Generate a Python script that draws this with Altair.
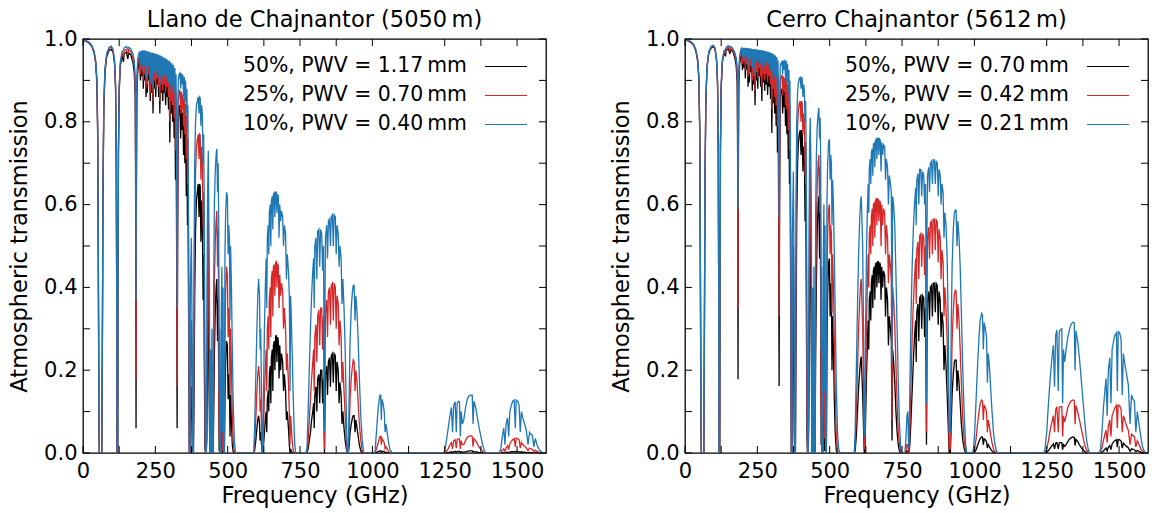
import altair as alt
import pandas as pd

# ---------------- data ----------------
FREQ_L = [
    0, 10, 20, 30, 38, 44, 48, 51, 53, 55, 56.5,
    65, 67, 69, 72, 76, 82, 90, 98, 104,
    109, 112.5, 115, 116.5, 117.5, 120, 121, 122.5, 125, 129,
    135, 140, 142, 150, 155, 158, 165, 172, 177,
    180.5, 182.3, 183.3, 184.3, 186, 189, 193,
    196, 198.5, 201, 203.5, 206, 208.5, 211, 213, 215.5, 218, 220.5, 222.5, 225, 227.5,
    230, 232.5, 235, 237.5, 240, 242, 244.5, 247, 249.5, 251.5, 254, 256.5, 259, 261.5,
    264, 265.5, 268, 270.5, 273, 275.5, 278, 280.5, 283, 285.5, 288, 290.5, 293, 295.5,
    298, 300, 302.5, 305, 307.5, 310, 312.5, 315, 317.5, 319.5, 321.5,
    323.5, 325.2, 327, 329, 332,
    335, 337.5, 340, 342.5, 345, 347.5, 350, 352, 354.5, 357, 359, 361, 362.5, 364.5, 366,
    367.5, 369.5, 371, 374.5, 377.5, 379, 381.5,
    383.5, 386, 389, 392, 395, 398, 401, 403, 405, 407.5, 410, 412.5,
    415, 417, 419.5, 421.5, 423.5, 426, 428, 430.5, 433, 435, 437, 438.5, 440.5, 442, 443.5, 445.5, 447, 449.5,
    451.5, 454, 457, 460, 462.5, 465, 467, 469, 470.5, 472, 473.5, 476, 478, 480, 482, 484, 486, 488.5,
    490.5, 493, 496, 499, 501.5, 503.5, 506, 508, 510, 513, 516, 519, 523, 527,
    590, 593, 597, 601, 604, 607, 610, 612, 614, 617, 619.5, 622,
    624, 627, 630, 633, 635, 637, 640, 642, 644, 647, 649, 651, 654,
    656, 658, 661, 663, 665.5, 668, 670, 672.5, 675, 677.5, 680,
    683, 686, 690, 693, 696, 700, 703, 706, 710, 713, 715.5, 717.5, 720, 723, 726, 729, 732, 735,
    770, 774, 778, 782, 786, 790, 794, 797, 799, 801, 805, 808, 811,
    815, 818, 821, 825, 828, 831, 833, 834.5, 836, 838, 842, 845, 848,
    852, 855, 858, 862, 865, 868, 872, 875, 878, 882,
    885, 888, 892, 895, 898, 902, 906, 910, 913, 917,
    920, 923, 927, 931, 934, 937, 940, 943, 947, 951, 955, 960, 965, 970,
    1008, 1010, 1014, 1018, 1022, 1026, 1029, 1031, 1033, 1037, 1041, 1044, 1047, 1051, 1055, 1060, 1066, 1070,
    1245, 1250, 1256, 1262, 1268, 1273, 1277, 1281, 1286, 1290, 1293, 1297, 1301, 1304,
    1307, 1311, 1316, 1322, 1328, 1334, 1340, 1345, 1348, 1351, 1357, 1363, 1369, 1375, 1381, 1387, 1393,
    1438, 1444, 1449, 1454, 1458, 1462, 1467, 1471, 1475, 1480, 1485, 1490, 1494, 1497,
    1502, 1507, 1511, 1515, 1520, 1526, 1532, 1538, 1543, 1548, 1553, 1558, 1563, 1569, 1575, 1582, 1590, 1600,
]

# 50 %, PWV = 1.17 mm (black)
T50_L = [
    .996, .995, .991, .983, .968, .940, .890, .750, .450, .080, 0,
    0, .25, .62, .83, .92, .958, .972, .975, .968,
    .94, .88, .70, .35, 0, 0, .35, .72, .87, .935,
    .96, .945, .965, .968, .952, .966, .962, .945, .92,
    .86, .55, .06, .55, .86, .92, .945,
    .948, .90, .95, .91, .95, .88, .948, .90, .945, .86, .942, .87, .94, .90,
    .937, .85, .934, .87, .93, .82, .927, .88, .924, .86, .921, .89, .918, .86,
    .915, .82, .912, .87, .909, .85, .905, .87, .90, .84, .896, .86, .892, .83,
    .887, .75, .882, .82, .876, .80, .868, .76, .855, .66, .83,
    .5, .06, .5, .8, .84,
    .835, .76, .83, .78, .822, .72, .81, .70, .79, .62, .75, .55, .68, .40, .15,
    0, 0, .077, .16, .02, 0, 0,
    .12, .38, .54, .61, .63, .65, .57, .65, .645, .51, .61, .57,
    .37, .48, .19, .011, 0, 0, .034, .26, .41, .19, .077, 0, 0, .02, 0, .034, 0, 0,
    .077, .24, .34, .40, .42, .27, .37, .19, .005, .034, 0, 0, .05, .11, 0, .077, 0, 0,
    .13, .22, .27, .26, .13, .19, .16, .04, .14, .077, .02, .003, 0, 0,
    0, .005, .03, .06, .08, .09, .07, .03, .05, .02, 0, 0,
    .02, .05, .08, .10, .05, .13, .15, .10, .19, .21, .12, .23, .25,
    .15, .26, .27, .20, .28, .285, .22, .28, .27, .18, .26,
    .20, .24, .22, .15, .19, .15, .08, .10, .06, .02, 0, .01, .005, 0, 0, 0, 0, 0,
    0, 0, .01, .03, .05, .08, .10, .12, .06, .14, .16, .10, .18,
    .19, .12, .20, .20, .12, .18, .08, 0, .10, .19, .21, .14, .22,
    .23, .16, .235, .24, .17, .24, .235, .15, .22, .20,
    .12, .17, .14, .07, .10, .06, .03, .01, 0, 0,
    .02, .05, .07, .085, .09, .09, .05, .08, .06, .04, .02, .005, 0, 0,
    0, 0, .001, .003, .004, .005, .005, .002, .004, .004, .003, .001, .002, .001, 0, 0, 0, 0,
    0, 0, 0, .001, .002, .003, .001, .003, .004, .001, .004, .004, .004, .001,
    .003, .002, .002, .003, .004, .005, .005, .005, .002, .004, .003, .002, .001, .001, 0, 0, 0,
    0, 0, 0, .001, 0, .001, .002, .001, .002, .003, .003, .004, .002, .004,
    .004, .003, .001, .003, .002, .002, .001, 0, .001, .001, .001, 0, .001, 0, 0, 0, 0, 0,
]

# 25 %, PWV = 0.70 mm (red)
T25_L = [
    .996, .995, .992, .984, .970, .945, .900, .770, .470, .090, 0,
    0, .27, .64, .84, .925, .962, .977, .98, .972,
    .945, .89, .72, .36, 0, 0, .36, .73, .88, .94,
    .965, .958, .972, .975, .963, .974, .97, .955, .935,
    .88, .65, .18, .65, .88, .935, .955,
    .958, .915, .96, .925, .96, .90, .958, .915, .955, .88, .954, .89, .952, .915,
    .95, .87, .948, .89, .945, .85, .943, .90, .94, .88, .938, .905, .935, .885,
    .932, .85, .93, .89, .927, .875, .924, .89, .92, .87, .917, .885, .914, .86,
    .91, .80, .906, .85, .902, .84, .896, .81, .887, .73, .87,
    .6, .16, .6, .85, .875,
    .875, .82, .872, .83, .866, .79, .857, .77, .843, .71, .815, .65, .76, .50, .20,
    0, 0, .2, .32, .09, 0, 0,
    .26, .54, .68, .74, .755, .77, .71, .77, .768, .66, .74, .71,
    .54, .63, .35, .06, 0, 0, .12, .43, .58, .35, .20, 0, 0, .09, 0, .12, 0, 0,
    .20, .41, .51, .56, .585, .45, .54, .35, .036, .12, 0, 0, .16, .25, .005, .20, 0, 0,
    .28, .39, .45, .43, .28, .35, .32, .14, .30, .20, .09, .025, .002, 0,
    0, .02, .08, .15, .19, .21, .18, .10, .13, .06, 0, 0,
    .06, .14, .20, .25, .15, .30, .33, .25, .37, .40, .28, .42, .44,
    .33, .45, .455, .38, .46, .462, .40, .458, .45, .35, .43,
    .38, .41, .39, .30, .35, .30, .20, .24, .17, .10, .02, .09, .06, .03, .01, 0, 0, 0,
    0, 0, .03, .08, .13, .18, .22, .25, .15, .28, .31, .22, .33,
    .345, .26, .35, .35, .25, .33, .15, .01, .20, .34, .37, .28, .39,
    .40, .31, .405, .41, .32, .41, .40, .30, .38, .36,
    .26, .32, .28, .17, .22, .15, .09, .03, 0, 0,
    .06, .13, .18, .21, .225, .22, .15, .20, .17, .12, .07, .03, .005, 0,
    0, .002, .01, .02, .03, .04, .04, .02, .035, .03, .025, .01, .015, .01, .005, .002, 0, 0,
    0, .001, .005, .01, .02, .025, .01, .03, .032, .012, .033, .034, .034, .01,
    .03, .02, .02, .03, .038, .04, .042, .04, .015, .035, .03, .022, .014, .008, .004, .001, 0,
    0, .002, .006, .01, .004, .012, .018, .008, .022, .028, .032, .035, .015, .036,
    .035, .032, .012, .026, .02, .016, .012, .005, .012, .01, .009, .003, .007, .004, .002, .001, 0, 0,
]

# 10 %, PWV = 0.40 mm (blue)
T10_L = [
    .997, .996, .993, .985, .972, .948, .905, .780, .480, .100, 0,
    0, .28, .65, .85, .93, .965, .98, .983, .975,
    .95, .895, .73, .37, 0, 0, .37, .74, .885, .945,
    .97, .972, .978, .982, .976, .98, .976, .965, .95,
    .91, .78, .37, .78, .91, .95, .965,
    .97, .935, .972, .94, .973, .92, .973, .935, .972, .905, .971, .91, .97, .935,
    .969, .895, .968, .91, .967, .88, .966, .92, .965, .905, .964, .925, .963, .91,
    .961, .885, .96, .915, .958, .905, .956, .915, .954, .90, .952, .91, .95, .895,
    .947, .87, .944, .89, .941, .885, .937, .87, .93, .84, .915,
    .75, .35, .75, .9, .915,
    .918, .88, .917, .89, .914, .86, .908, .85, .90, .82, .88, .78, .84, .62, .30,
    0, 0, .4, .52, .25, 0, 0,
    .45, .70, .80, .84, .85, .86, .82, .86, .858, .79, .84, .82,
    .70, .77, .55, .20, 0, 0, .30, .62, .73, .55, .40, 0, 0, .25, 0, .30, 0, 0,
    .40, .60, .68, .72, .735, .63, .70, .55, .15, .30, 0, 0, .35, .45, .05, .40, 0, 0,
    .48, .58, .63, .62, .48, .55, .52, .32, .50, .40, .25, .12, .03, 0,
    0, .06, .18, .30, .38, .42, .38, .25, .30, .15, 0, 0,
    .15, .30, .40, .47, .35, .52, .55, .48, .58, .60, .50, .61, .62,
    .54, .625, .628, .57, .63, .63, .58, .625, .62, .52, .60,
    .56, .585, .57, .50, .55, .53, .42, .48, .44, .38, .15, .38, .32, .24, .15, .07, .02, 0,
    0, .01, .10, .20, .30, .38, .44, .47, .35, .50, .52, .42, .535,
    .54, .45, .54, .53, .44, .50, .28, .05, .35, .52, .55, .47, .56,
    .565, .50, .57, .575, .50, .575, .57, .48, .55, .53,
    .45, .50, .47, .36, .42, .35, .25, .10, 0, 0,
    .15, .27, .35, .39, .405, .405, .32, .38, .34, .27, .18, .09, .03, 0,
    0, .01, .05, .09, .12, .14, .14, .08, .13, .12, .10, .05, .07, .05, .03, .01, .003, 0,
    0, .005, .03, .06, .09, .11, .05, .115, .124, .05, .12, .125, .124, .04,
    .10, .07, .08, .11, .13, .138, .14, .14, .07, .125, .11, .085, .06, .04, .02, .006, 0,
    0, .01, .04, .06, .02, .07, .085, .04, .10, .115, .125, .128, .06, .128,
    .125, .115, .05, .10, .085, .07, .055, .02, .05, .045, .043, .015, .035, .02, .01, .004, 0, 0,
]

FREQ_R = [
    0, 10, 20, 30, 38, 44, 48, 51, 53, 55, 56.5,
    65, 67, 69, 72, 76, 82, 90, 98, 104,
    109, 112.5, 115, 116.5, 117.5, 120, 121, 122.5, 125, 129,
    135, 140, 142, 150, 155, 158, 165, 172, 177,
    180.5, 182.3, 183.3, 184.3, 186, 189, 193,
    196, 198.5, 201, 203.5, 206, 208.5, 211, 213, 215.5, 218, 220.5, 222.5, 225, 227.5,
    230, 232.5, 235, 237.5, 240, 242, 244.5, 247, 249.5, 251.5, 254, 256.5, 259, 261.5,
    264, 265.5, 268, 270.5, 273, 275.5, 278, 280.5, 283, 285.5, 288, 290.5, 293, 295.5,
    298, 300, 302.5, 305, 307.5, 310, 312.5, 315, 317.5, 319.5, 321.5,
    323.5, 325.2, 327, 329, 332,
    335, 337.5, 340, 342.5, 345, 347.5, 350, 352, 354.5, 357, 359, 361, 362.5, 364.5, 366,
    367.5, 369.5, 371, 374.5, 377.5, 379, 381.5,
    383.5, 386, 389, 392, 395, 398, 401, 403, 405, 407.5, 410, 412.5,
    415, 417, 419.5, 421.5, 423.5, 426, 428, 430.5, 433, 435, 437, 438.5, 440.5, 442, 443.5, 445.5, 447, 449.5,
    451.5, 454, 457, 460, 462.5, 465, 467, 469, 470.5, 472, 473.5, 476, 478, 480, 482, 484, 486, 488.5,
    490.5, 493, 496, 499, 501.5, 503.5, 506, 508, 510, 513, 516, 519, 523, 527, 531, 535,
    585, 588, 592, 596, 600, 604, 607, 609, 612, 614, 617, 619.5, 622,
    624, 627, 630, 633, 635, 637, 640, 642, 644, 647, 649, 651, 654,
    656, 658, 661, 663, 665.5, 668, 670, 672.5, 675, 677.5, 680,
    683, 686, 690, 693, 696, 700, 703, 706, 710, 713, 715.5, 717.5, 721, 725, 729, 733, 737, 741, 745, 748,
    760, 763, 767, 770, 772, 774, 777, 781, 785, 789, 793, 797, 799, 801, 805, 808, 811,
    815, 818, 821, 825, 828, 831, 833, 834.5, 836, 838, 842, 845, 848,
    852, 855, 858, 862, 865, 868, 872, 875, 878, 882,
    885, 888, 892, 895, 898, 902, 906, 910, 913, 917,
    920, 923, 927, 931, 934, 937, 940, 943, 947, 951, 955, 960, 965, 970, 974,
    993, 997, 1001, 1006, 1011, 1016, 1020, 1025, 1028, 1031, 1034, 1038, 1042, 1045, 1048, 1052, 1056, 1061, 1066, 1071, 1077, 1082,
    1240, 1244, 1250, 1256, 1262, 1268, 1273, 1277, 1281, 1285, 1290, 1293, 1297, 1302, 1305,
    1308, 1312, 1317, 1323, 1329, 1335, 1341, 1345, 1348, 1351, 1357, 1363, 1369, 1375, 1381, 1387, 1393, 1398,
    1432, 1436, 1441, 1446, 1451, 1455, 1459, 1463, 1468, 1472, 1476, 1481, 1486, 1491, 1494, 1497,
    1502, 1507, 1511, 1515, 1520, 1526, 1532, 1538, 1543, 1548, 1553, 1558, 1563, 1569, 1575, 1581, 1587, 1593, 1600,
]

# 50 %, PWV = 0.70 mm (black)
T50_R = [
    .997, .996, .992, .985, .970, .945, .900, .770, .470, .090, 0,
    0, .27, .64, .845, .93, .965, .978, .982, .975,
    .948, .89, .72, .36, 0, 0, .36, .73, .88, .943,
    .968, .958, .972, .976, .964, .974, .97, .955, .935,
    .89, .65, .178, .65, .89, .94, .96,
    .962, .925, .963, .93, .963, .905, .962, .925, .96, .885, .958, .895, .957, .92,
    .955, .875, .953, .89, .951, .84, .949, .90, .947, .88, .945, .91, .943, .885,
    .941, .85, .939, .895, .937, .875, .935, .89, .932, .865, .93, .885, .927, .855,
    .924, .773, .92, .845, .916, .82, .91, .79, .90, .726, .88,
    .6, .162, .6, .86, .875,
    .88, .82, .877, .835, .873, .79, .866, .77, .85, .71, .82, .65, .78, .50, .20,
    0, 0, .16, .34, .05, 0, 0,
    .25, .56, .70, .75, .77, .78, .72, .78, .775, .68, .74, .71,
    .56, .65, .34, .035, 0, 0, .09, .44, .58, .38, .20, 0, 0, .08, 0, .11, 0, 0,
    .23, .41, .54, .60, .62, .47, .58, .38, .02, .11, 0, 0, .13, .25, .005, .20, 0, 0,
    .25, .38, .46, .47, .33, .41, .38, .20, .33, .25, .13, .05, .006, 0, 0, 0,
    0, .005, .04, .10, .16, .20, .225, .233, .18, .14, .06, 0, 0,
    .08, .18, .26, .32, .25, .37, .39, .32, .41, .43, .35, .44, .45,
    .37, .455, .46, .40, .462, .462, .41, .46, .455, .37, .45,
    .40, .44, .43, .33, .40, .37, .26, .33, .30, .27, .03, .25, .22, .17, .10, .05, .02, .005, 0, 0,
    0, 0, .005, .005, 0, 0, .02, .08, .15, .22, .28, .32, .22, .34, .36, .27, .375,
    .38, .30, .38, .375, .28, .35, .20, .02, .25, .37, .39, .32, .40,
    .405, .33, .41, .41, .34, .41, .405, .31, .39, .37,
    .28, .34, .31, .20, .26, .21, .14, .06, 0, 0,
    .07, .14, .19, .22, .225, .224, .15, .20, .17, .12, .07, .03, .01, 0, 0,
    0, 0, .002, .008, .018, .028, .035, .039, .038, .02, .034, .032, .027, .012, .02, .015, .01, .005, .002, 0, 0, 0,
    0, 0, .002, .006, .012, .018, .022, .01, .024, .025, .01, .024, .025, .025, .008,
    .02, .016, .02, .028, .034, .037, .039, .038, .018, .033, .028, .02, .013, .008, .004, .001, 0, 0,
    0, 0, .002, .005, .009, .012, .005, .014, .018, .008, .022, .027, .03, .032, .014, .033,
    .032, .029, .012, .024, .02, .016, .013, .004, .01, .009, .008, .003, .006, .004, .002, .001, 0, 0, 0,
]

# 25 %, PWV = 0.42 mm (red)
T25_R = [
    .997, .996, .993, .986, .972, .948, .905, .780, .480, .100, 0,
    0, .28, .65, .85, .933, .967, .98, .984, .977,
    .95, .895, .73, .37, 0, 0, .37, .74, .885, .946,
    .97, .966, .976, .98, .972, .978, .974, .962, .945,
    .91, .75, .351, .75, .91, .95, .968,
    .97, .94, .971, .945, .972, .925, .971, .94, .97, .91, .969, .915, .968, .935,
    .967, .90, .966, .91, .964, .875, .963, .92, .962, .905, .96, .93, .958, .91,
    .957, .885, .955, .915, .953, .90, .952, .915, .95, .895, .948, .91, .946, .89,
    .944, .83, .941, .88, .938, .86, .934, .84, .928, .79, .915,
    .72, .33, .72, .90, .91,
    .912, .865, .91, .875, .906, .84, .90, .83, .89, .78, .87, .73, .84, .60, .28,
    0, 0, .32, .5, .16, 0, 0,
    .40, .67, .79, .83, .845, .85, .80, .85, .845, .77, .82, .80,
    .67, .75, .49, .12, 0, 0, .21, .58, .69, .53, .34, 0, 0, .19, 0, .24, 0, 0,
    .38, .55, .65, .70, .72, .60, .69, .53, .09, .24, 0, 0, .27, .40, .035, .34, 0, 0,
    .40, .53, .59, .60, .48, .55, .53, .34, .48, .40, .27, .15, .04, .006, 0, 0,
    0, .015, .10, .20, .30, .37, .41, .42, .35, .30, .15, .01, .01,
    .15, .30, .40, .48, .40, .53, .55, .48, .57, .59, .50, .60, .605,
    .52, .61, .613, .55, .613, .612, .56, .61, .605, .50, .60,
    .55, .59, .58, .48, .55, .52, .41, .48, .45, .42, .08, .40, .37, .31, .21, .12, .05, .02, .005, 0,
    0, .005, .02, .02, .005, 0, .06, .17, .28, .36, .42, .47, .36, .49, .51, .42, .525,
    .53, .45, .53, .52, .43, .50, .30, .05, .38, .52, .545, .47, .555,
    .56, .48, .565, .565, .49, .563, .558, .46, .54, .52,
    .42, .49, .46, .33, .40, .35, .27, .14, .01, .01,
    .15, .27, .34, .385, .393, .39, .30, .36, .32, .25, .17, .08, .03, .005, 0,
    0, .002, .01, .035, .07, .10, .12, .128, .125, .08, .115, .11, .10, .05, .08, .065, .045, .025, .01, .003, 0, 0,
    0, .002, .01, .03, .055, .075, .09, .05, .105, .112, .05, .11, .112, .112, .04,
    .09, .075, .09, .11, .12, .126, .128, .127, .07, .115, .10, .08, .06, .04, .02, .008, .002, 0,
    0, .003, .012, .03, .045, .055, .025, .065, .08, .04, .09, .10, .11, .115, .06, .116,
    .114, .105, .05, .09, .08, .065, .055, .02, .045, .042, .04, .015, .03, .02, .01, .004, .001, 0, 0,
]

# 10 %, PWV = 0.21 mm (blue)
T10_R = [
    .998, .997, .994, .987, .974, .950, .910, .790, .490, .100, 0,
    0, .29, .66, .855, .935, .968, .982, .985, .978,
    .952, .90, .74, .38, 0, 0, .38, .75, .89, .948,
    .972, .975, .98, .984, .98, .982, .978, .968, .955,
    .93, .85, .589, .85, .93, .96, .975,
    .978, .955, .979, .96, .979, .945, .979, .955, .978, .935, .978, .94, .977, .955,
    .977, .93, .976, .94, .976, .915, .975, .945, .975, .935, .974, .95, .974, .94,
    .973, .925, .973, .945, .972, .935, .971, .945, .97, .93, .969, .94, .968, .925,
    .967, .90, .965, .92, .963, .91, .96, .905, .956, .875, .948,
    .83, .569, .83, .935, .942,
    .945, .915, .948, .925, .95, .90, .947, .895, .94, .87, .925, .84, .90, .72, .40,
    0, 0, .52, .68, .38, 0, 0,
    .60, .80, .87, .895, .905, .907, .88, .908, .905, .86, .89, .875,
    .80, .85, .67, .30, 0, 0, .42, .74, .81, .70, .55, 0, .02, .40, 0, .45, 0, 0,
    .58, .72, .79, .82, .834, .76, .81, .70, .25, .45, 0, .02, .48, .60, .15, .55, 0, 0,
    .60, .70, .75, .758, .66, .72, .70, .55, .66, .60, .48, .34, .16, .05, .01, 0,
    0, .05, .20, .35, .48, .57, .61, .62, .55, .50, .30, .04, .05,
    .30, .48, .58, .65, .58, .69, .71, .65, .725, .735, .67, .745, .75,
    .69, .755, .758, .71, .76, .76, .72, .758, .755, .68, .75,
    .72, .745, .74, .66, .71, .69, .60, .67, .65, .63, .22, .62, .60, .55, .43, .30, .17, .07, .02, 0,
    0, .03, .09, .10, .03, .01, .15, .33, .45, .54, .60, .64, .55, .66, .675, .60, .685,
    .685, .62, .68, .67, .60, .65, .45, .12, .53, .67, .69, .63, .70,
    .705, .65, .708, .708, .65, .706, .70, .62, .685, .67,
    .60, .65, .63, .52, .58, .55, .47, .30, .05, .05,
    .30, .45, .54, .58, .587, .586, .50, .56, .52, .45, .34, .20, .09, .02, 0,
    0, .01, .05, .13, .21, .28, .32, .337, .333, .25, .315, .30, .28, .17, .24, .21, .16, .10, .05, .02, .003, 0,
    0, .01, .05, .12, .18, .23, .26, .16, .285, .297, .15, .29, .298, .30, .12,
    .25, .22, .25, .28, .30, .312, .316, .315, .20, .295, .27, .23, .18, .13, .08, .035, .01, 0,
    0, .01, .05, .11, .15, .18, .09, .20, .23, .12, .25, .27, .285, .29, .15, .293,
    .29, .275, .14, .24, .215, .19, .165, .07, .14, .13, .125, .05, .10, .07, .04, .015, .004, 0, 0,
]

X_TICKS = [0, 125, 250, 375, 500, 625, 750, 875, 1000, 1125, 1250, 1375, 1500]
X_TICKS_TOP = [0, 125, 250, 375, 500, 625, 750, 875, 1000, 1250, 1375, 1500]
X_LABELS = [0, 250, 500, 750, 1000, 1250, 1500]
Y_TICKS = [0, 0.1, 0.2, 0.3, 0.4, 0.5, 0.6, 0.7, 0.8, 0.9, 1.0]
Y_LABELS = [0, 0.2, 0.4, 0.6, 0.8, 1.0]

TITLES = ["Llano de Chajnantor (5050\u2009m)", "Cerro Chajnantor (5612\u2009m)"]
LEGEND_L = ["50%, PWV = 1.17\u2009mm", "25%, PWV = 0.70\u2009mm", "10%, PWV = 0.40\u2009mm"]
LEGEND_R = ["50%, PWV = 0.70\u2009mm", "25%, PWV = 0.42\u2009mm", "10%, PWV = 0.21\u2009mm"]
COLORS = ["#000000", "#d62728", "#1f77b4"]

for name, f, a, b, c in [("L", FREQ_L, T50_L, T25_L, T10_L), ("R", FREQ_R, T50_R, T25_R, T10_R)]:
    assert len(f) == len(a) == len(b) == len(c), (name, len(f), len(a), len(b), len(c))

# ---------------- chart ----------------
FONT = "DejaVu Sans"
W, H = 463, 414
XS = alt.Scale(domain=[0, 1600], nice=False, zero=False)
YS = alt.Scale(domain=[0, 1], nice=False, zero=False)
TL = 7  # inward tick length


def make_panel(freq, series, legend_labels, title):
    xaxis = alt.Axis(values=X_LABELS, format="d", ticks=False, tickSize=0, domain=False, grid=False,
                     labelPadding=7, labelFontSize=21, labelFlush=False,
                     title="Frequency (GHz)", titleFontSize=22.5, titlePadding=3)
    yaxis = alt.Axis(values=Y_LABELS, format=".1f", ticks=False, tickSize=0, domain=False, grid=False,
                     labelPadding=6, labelFontSize=21, labelFlush=False,
                     title="Atmospheric transmission", titleFontSize=22.5, titlePadding=12)
    layers = []
    for vals, col in zip(series, COLORS):
        df = pd.DataFrame({"f": freq, "t": vals})
        layers.append(
            alt.Chart(df).mark_line(color=col, strokeWidth=1.3, clip=True).encode(
                x=alt.X("f:Q", scale=XS, axis=xaxis),
                y=alt.Y("t:Q", scale=YS, axis=yaxis),
                order=alt.Order("f:Q"),
            )
        )
    xt = pd.DataFrame({"f": X_TICKS})
    xtt = pd.DataFrame({"f": X_TICKS_TOP})
    yt = pd.DataFrame({"t": Y_TICKS})
    layers.append(alt.Chart(xt).mark_rule(color="black", strokeWidth=1).encode(
        x=alt.X("f:Q", scale=XS, axis=xaxis), y=alt.value(H), y2=alt.value(H - TL)))
    layers.append(alt.Chart(xtt).mark_rule(color="black", strokeWidth=1).encode(
        x=alt.X("f:Q", scale=XS, axis=xaxis), y=alt.value(0), y2=alt.value(TL)))
    layers.append(alt.Chart(yt).mark_rule(color="black", strokeWidth=1).encode(
        y=alt.Y("t:Q", scale=YS, axis=yaxis), x=alt.value(0), x2=alt.value(TL)))
    layers.append(alt.Chart(yt).mark_rule(color="black", strokeWidth=1).encode(
        y=alt.Y("t:Q", scale=YS, axis=yaxis), x=alt.value(W), x2=alt.value(W - TL)))
    for i, (lab, col) in enumerate(zip(legend_labels, COLORS)):
        d = pd.DataFrame({"label": [lab]})
        yy = 27 + i * 29
        layers.append(alt.Chart(d).mark_text(align="left", baseline="middle", font=FONT,
                                             fontSize=20.4, color="black").encode(
            x=alt.value(160), y=alt.value(yy), text="label:N"))
        layers.append(alt.Chart(d).mark_rule(color=col, strokeWidth=1.2).encode(
            x=alt.value(402), x2=alt.value(444), y=alt.value(yy + 0.5)))
    return alt.layer(*layers).properties(
        width=W, height=H,
        title=alt.TitleParams(text=title, fontSize=22.5, font=FONT, fontWeight="normal",
                              color="black", offset=-3, anchor="middle"),
    )


left = make_panel(FREQ_L, [T50_L, T25_L, T10_L], LEGEND_L, TITLES[0])
right = make_panel(FREQ_R, [T50_R, T25_R, T10_R], LEGEND_R, TITLES[1])

chart = alt.hconcat(left, right, spacing=61).properties(
    padding={"left": 7, "top": 7, "right": 0, "bottom": 0},
    background="white",
).configure_view(
    stroke="black", strokeWidth=1.3
).configure_axis(
    labelFont=FONT, titleFont=FONT, labelColor="black", titleColor="black",
    titleFontWeight="normal",
).configure_title(font=FONT)

chart.save("out.html", embed_options={"renderer": "svg", "actions": False})
